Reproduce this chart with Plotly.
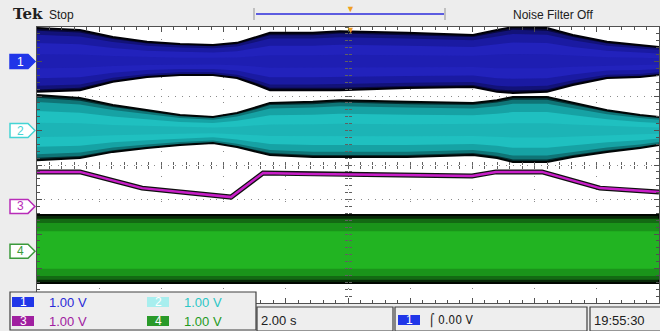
import plotly.graph_objects as go

# ---------------- data (time in s, amplitude in V relative to channel marker) ----------------
t_env = [0, 1.38, 2.44, 3.54, 4.60, 5.66, 6.43, 7.07, 7.49, 8.87, 9.74, 11.90,
         14.02, 14.79, 15.30, 16.40, 17.23, 18.33, 19.39, 20]
ch1_top = [0.97, 0.91, 0.71, 0.57, 0.51, 0.48, 0.54, 0.71, 0.83, 0.83, 0.88, 0.83,
           0.77, 0.91, 1.00, 0.97, 0.77, 0.57, 0.48, 0.42]
ch1_bot = [-0.88, -0.83, -0.59, -0.45, -0.39, -0.39, -0.48, -0.68, -0.83, -0.83, -0.83, -0.77,
           -0.74, -0.88, -0.91, -0.88, -0.68, -0.48, -0.45, -0.39]
ch2_top = [1.03, 0.94, 0.74, 0.59, 0.45, 0.39, 0.51, 0.68, 0.80, 0.83, 0.88, 0.83,
           0.80, 0.88, 0.97, 0.97, 0.80, 0.59, 0.45, 0.39]
ch2_bot = [-0.86, -0.80, -0.62, -0.51, -0.42, -0.36, -0.48, -0.62, -0.71, -0.77, -0.77, -0.77,
           -0.71, -0.80, -0.91, -0.91, -0.77, -0.62, -0.51, -0.42]
t_ch3 = [0, 1.38, 3.38, 6.24, 7.27, 8.78, 11.67, 13.99, 14.76, 16.24, 18.10, 20]
ch3_val = [1.00, 1.00, 0.53, 0.27, 0.97, 0.94, 0.91, 0.88, 1.00, 1.00, 0.53, 0.42]
t_ch4 = [0, 20]
ch4_top = [1.05, 1.05]
ch4_bot = [-0.92, -0.92]

ch_offset = {1: 3.0, 2: 1.0, 3: -1.2, 4: -2.5}
scale_labels = ["1.00 V", "1.00 V", "1.00 V", "1.00 V"]
timebase_label = "2.00 s"
trigger_label = "\u2320 0.00 V"
clock_label = "19:55:30"

# ---------------- figure ----------------
W, H = 660, 331
L, R, T, B = 37, 1, 27, 28
PW, PH = W - L - R, H - T - B


def px(x):
    return (x - L) / PW


def py(y):
    return (H - B - y) / PH


fig = go.Figure()


def band(t, top, bot, off, k, fill, line_color=None, lw=0):
    xs = list(t) + list(t)[::-1]
    ys = [off + k * v for v in top] + [off + k * v for v in bot][::-1]
    fig.add_trace(go.Scatter(
        x=xs, y=ys, fill="toself", fillcolor=fill, mode="lines",
        line=dict(color=line_color or fill, width=lw), hoverinfo="skip", showlegend=False))


# channel 1 (blue)
band(t_env, ch1_top, ch1_bot, ch_offset[1], 1.0, "#08083a", "#000008", 2)
band(t_env, ch1_top, ch1_bot, ch_offset[1], 0.92, "#121278")
band(t_env, ch1_top, ch1_bot, ch_offset[1], 0.80, "#1a1aa2")
band(t_env, ch1_top, ch1_bot, ch_offset[1], 0.55, "#2222bc")
band(t_env, ch1_top, ch1_bot, ch_offset[1], 0.22, "#1e1eb2")
# channel 2 (cyan)
band(t_env, ch2_top, ch2_bot, ch_offset[2], 1.0, "#062e30", "#000606", 2)
band(t_env, ch2_top, ch2_bot, ch_offset[2], 0.92, "#0f7476")
band(t_env, ch2_top, ch2_bot, ch_offset[2], 0.80, "#16a2a4")
band(t_env, ch2_top, ch2_bot, ch_offset[2], 0.55, "#1fc0c0")
band(t_env, ch2_top, ch2_bot, ch_offset[2], 0.22, "#1cb4b6")
# channel 4 (green)
band(t_ch4, ch4_top, ch4_bot, ch_offset[4], 1.0, "#082808", "#000600", 2)
band(t_ch4, ch4_top, ch4_bot, ch_offset[4], 0.90, "#136a13")
band(t_ch4, ch4_top, ch4_bot, ch_offset[4], 0.78, "#1a941a")
band(t_ch4, ch4_top, ch4_bot, ch_offset[4], 0.55, "#22b422")
# channel 3 (magenta line)
y3 = [ch_offset[3] + v for v in ch3_val]
fig.add_trace(go.Scatter(x=t_ch3, y=y3, mode="lines", line=dict(color="#101010", width=5),
                         hoverinfo="skip", showlegend=False))
fig.add_trace(go.Scatter(x=t_ch3, y=y3, mode="lines", line=dict(color="#c81ec8", width=2.5),
                         hoverinfo="skip", showlegend=False))
# empty traces so the centre-line tick axes are drawn
for xa, ya in (("x2", "y"), ("x3", "y"), ("x", "y2"), ("x", "y3")):
    fig.add_trace(go.Scatter(x=[], y=[], xaxis=xa, yaxis=ya, showlegend=False, hoverinfo="skip"))

axis_common = dict(showticklabels=False, showline=True, linecolor="#505050", linewidth=1,
                   mirror="ticks", ticks="inside", tickcolor="#505050", zeroline=False,
                   gridcolor="#8a8a8a", gridwidth=1, layer="above traces", fixedrange=True)
fig.update_xaxes(range=[0, 20], dtick=2, tick0=0, ticklen=5, griddash="1px,11.44px",
                 minor=dict(dtick=0.4, ticklen=3, ticks="inside", tickcolor="#505050", showgrid=False),
                 **axis_common)
fig.update_yaxes(range=[-4, 4], dtick=1, tick0=0, ticklen=5, griddash="1px,5.9px",
                 minor=dict(dtick=0.2, ticklen=3, ticks="inside", tickcolor="#505050", showgrid=False),
                 **axis_common)
center_common = dict(showticklabels=False, showline=False, showgrid=False, zeroline=False,
                     ticklen=3, tickcolor="#606060", anchor="free", position=0.5, fixedrange=True)
fig.update_layout(
    xaxis2=dict(overlaying="x", range=[0, 20], dtick=0.4, tick0=0, ticks="inside", **center_common),
    xaxis3=dict(overlaying="x", range=[0, 20], dtick=0.4, tick0=0, ticks="outside", **center_common),
    yaxis2=dict(overlaying="y", range=[-4, 4], dtick=0.2, tick0=0, ticks="inside", **center_common),
    yaxis3=dict(overlaying="y", range=[-4, 4], dtick=0.2, tick0=0, ticks="outside", **center_common),
)

shapes = []
ann = []
FONT = "Liberation Sans Narrow, Liberation Sans, Arial"

# top bar
ann.append(dict(x=px(11), y=py(14), xref="paper", yref="paper", xanchor="left", yanchor="middle",
                text="<b>Tek</b>", showarrow=False,
                font=dict(family="DejaVu Serif, Liberation Serif", size=15, color="#202020")))
ann.append(dict(x=px(47), y=py(15), xref="paper", yref="paper", xanchor="left", yanchor="middle",
                text="Stop", showarrow=False, font=dict(family=FONT, size=12, color="#202020")))
ann.append(dict(x=px(553), y=py(15), xref="paper", yref="paper", xanchor="center", yanchor="middle",
                text="Noise Filter Off", showarrow=False, font=dict(family=FONT, size=12, color="#202020")))
shapes.append(dict(type="line", xref="paper", yref="paper", x0=px(256), x1=px(444), y0=py(14), y1=py(14),
                   line=dict(color="#5c5ce0", width=2)))
for xb in (254, 445):
    shapes.append(dict(type="line", xref="paper", yref="paper", x0=px(xb), x1=px(xb), y0=py(8), y1=py(20),
                       line=dict(color="#b0b0b0", width=1.5)))
for yt in (9, 29):
    ann.append(dict(x=px(350), y=py(yt), xref="paper", yref="paper", xanchor="center", yanchor="middle",
                    text="\u25bc", showarrow=False, font=dict(size=9, color="#f0a020")))

# channel markers
marker_style = {1: ("#2036e8", "#2036e8", "white"), 2: ("#ffffff", "#44d4d4", "#44d4d4"),
                3: ("#ffffff", "#b82cb8", "#b82cb8"), 4: ("#ffffff", "#3c9a3c", "#3c9a3c")}
for ch in (1, 2, 3, 4):
    fillc, linec, txtc = marker_style[ch]
    shapes.append(dict(type="path", xref="paper", yref="y", xsizemode="pixel", ysizemode="pixel",
                       xanchor=0, yanchor=ch_offset[ch],
                       path="M-27,-7 L-9,-7 L-2,0 L-9,7 L-27,7 Z",
                       fillcolor=fillc, line=dict(color=linec, width=1.5)))
    ann.append(dict(x=px(20), y=ch_offset[ch], xref="paper", yref="y", xanchor="center", yanchor="middle",
                    text=str(ch), showarrow=False, font=dict(family=FONT, size=12, color=txtc)))

# bottom info boxes
for (x0, x1, y0, y1) in [(10, 256, 292, 330), (257, 393, 307, 331), (395, 587, 307, 331), (590, 662, 307, 331)]:
    shapes.append(dict(type="rect", xref="paper", yref="paper", x0=px(x0), x1=px(x1), y0=py(y1), y1=py(y0),
                       fillcolor="#eeeeee", line=dict(color="#404040", width=1.2), layer="above"))

pill_info = [(1, 12, 302, "#2036e8", "white"), (2, 147, 302, "#a8eeee", "white"),
             (3, 12, 321, "#a020a0", "white"), (4, 147, 321, "#2a9a2a", "white")]
txt_cols = {1: "#2a2ad8", 2: "#2cc6c6", 3: "#a020a0", 4: "#1f9a1f"}
for i, (ch, x0, yc, bg, fc) in enumerate(pill_info):
    shapes.append(dict(type="rect", xref="paper", yref="paper", x0=px(x0), x1=px(x0 + 22),
                       y0=py(yc + 5), y1=py(yc - 5), fillcolor=bg, line=dict(width=0), layer="above"))
    ann.append(dict(x=px(x0 + 11), y=py(yc), xref="paper", yref="paper", xanchor="center", yanchor="middle",
                    text=str(ch), showarrow=False, font=dict(family=FONT, size=12, color=fc)))
    ann.append(dict(x=px(x0 + 35), y=py(yc), xref="paper", yref="paper", xanchor="left", yanchor="middle",
                    text=scale_labels[i], showarrow=False, font=dict(family=FONT, size=13, color=txt_cols[ch])))

ann.append(dict(x=px(259), y=py(320), xref="paper", yref="paper", xanchor="left", yanchor="middle",
                text=timebase_label, showarrow=False, font=dict(family=FONT, size=13, color="#202020")))
shapes.append(dict(type="rect", xref="paper", yref="paper", x0=px(398), x1=px(420),
                   y0=py(325), y1=py(315), fillcolor="#2036e8", line=dict(width=0), layer="above"))
ann.append(dict(x=px(409), y=py(320), xref="paper", yref="paper", xanchor="center", yanchor="middle",
                text="1", showarrow=False, font=dict(family=FONT, size=12, color="white")))
ann.append(dict(x=px(427), y=py(320), xref="paper", yref="paper", xanchor="left", yanchor="middle",
                text=trigger_label, showarrow=False, font=dict(family="DejaVu Sans Condensed, " + FONT,
                                                               size=12, color="#202020")))
ann.append(dict(x=px(592), y=py(320), xref="paper", yref="paper", xanchor="left", yanchor="middle",
                text=clock_label, showarrow=False, font=dict(family=FONT, size=13, color="#202020")))

fig.update_layout(width=W, height=H, margin=dict(l=L, r=R, t=T, b=B),
                  paper_bgcolor="#ededed", plot_bgcolor="white",
                  shapes=shapes, annotations=ann, showlegend=False)
fig.write_html("out.html", config={"displayModeBar": False, "staticPlot": True},
               post_script="document.body.style.margin='0';document.body.style.overflow='hidden';")
